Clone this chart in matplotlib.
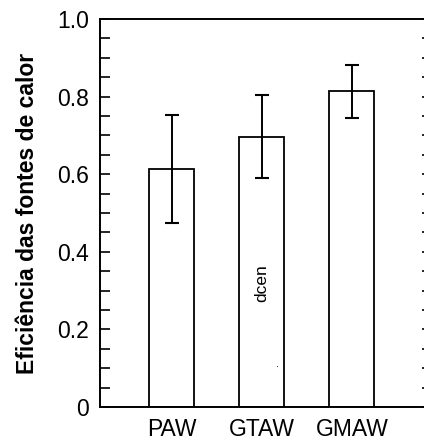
import numpy as np
import matplotlib
matplotlib.use("Agg")
import matplotlib.pyplot as plt
from matplotlib.ticker import MultipleLocator, FixedFormatter, FixedLocator

# data
processos = ["PAW", "GTAW", "GMAW"]
eficiencia = [0.613, 0.697, 0.814]
erro = [0.140, 0.107, 0.068]

plt.rcParams["font.family"] = ["Liberation Sans", "DejaVu Sans"]

fig = plt.figure(figsize=(4.24, 4.42), dpi=100)
ax = fig.add_axes([100 / 424, 35 / 442, 332 / 424, 388 / 442])

x = np.arange(len(processos))
ax.bar(x, eficiencia, width=0.5, color="white", edgecolor="black", linewidth=1.3,
       yerr=erro, capsize=4.8, error_kw=dict(elinewidth=1.4, capthick=1.5, ecolor="black"))

ax.set_xlim(-0.8, 2.89)
ax.set_ylim(0, 1.0)

ax.yaxis.set_major_locator(FixedLocator([0, 0.2, 0.4, 0.6, 0.8, 1.0]))
ax.yaxis.set_major_formatter(FixedFormatter(["0", "0.2", "0.4", "0.6", "0.8", "1.0"]))
ax.yaxis.set_minor_locator(MultipleLocator(0.05))
ax.tick_params(axis="y", which="both", direction="in", length=7.5, width=1.2,
               right=True, labelsize=16.5, pad=8)
ax.set_xticks(x)
ax.set_xticklabels(processos, fontsize=16.5)
ax.tick_params(axis="x", length=0, pad=8)

for s in ax.spines.values():
    s.set_linewidth(1.4)

ax.set_ylabel("Eficiência das fontes de calor", fontsize=16.5, fontweight="bold", labelpad=13)

ax.text(1.0, 0.32, "dcen", rotation=90, ha="center", va="center", fontsize=12.5)
ax.text(1.17, 0.11, ".", ha="center", va="center", fontsize=8)

fig.savefig("out.png", dpi=100)
